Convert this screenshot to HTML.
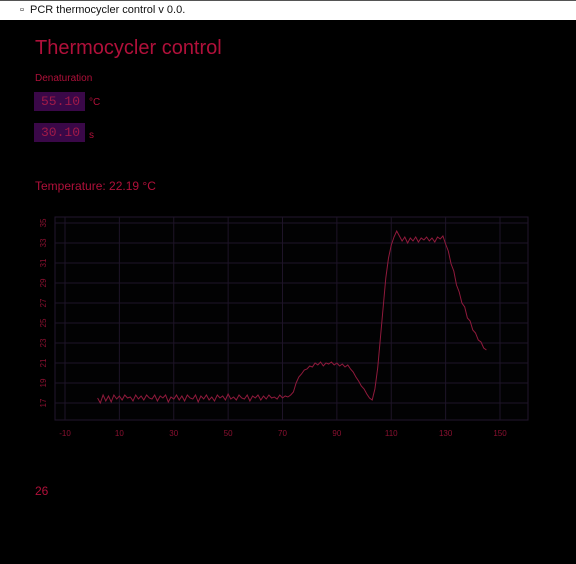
<!DOCTYPE html>
<html><head><meta charset="utf-8">
<style>
html,body{margin:0;padding:0;width:576px;height:564px;overflow:hidden;background:#000;font-family:"Liberation Sans",sans-serif;}
#titlebar{position:absolute;left:0;top:0;width:576px;height:20px;background:#fff;border-top:1px solid #555;box-sizing:border-box;}
#titlebar span{position:absolute;left:20px;top:3px;font-size:11px;color:#111;}
.t{position:absolute;color:#b0103a;}
.box{position:absolute;width:51px;height:19px;background:#3a0848;color:#a01a48;font-family:"Liberation Mono",monospace;font-size:13px;line-height:19px;box-sizing:border-box;padding-left:7px;}
</style></head><body>
<div id="titlebar"><span>▫&nbsp;&nbsp;PCR thermocycler control v 0.0.</span></div>
<div class="t" style="left:35px;top:37px;font-size:20px;">Thermocycler control</div>
<div class="t" style="left:35px;top:73px;font-size:10px;">Denaturation</div>
<div class="box" style="left:34px;top:92px;">55.10</div>
<div class="t" style="left:89px;top:97px;font-size:10px;">°C</div>
<div class="box" style="left:34px;top:123px;">30.10</div>
<div class="t" style="left:89px;top:130px;font-size:10px;">s</div>
<div class="t" style="left:35px;top:179px;font-size:12px;">Temperature: 22.19 °C</div>
<div class="t" style="left:35px;top:484px;font-size:12px;">26</div>
<svg id="chart" width="576" height="564" style="position:absolute;left:0;top:0;">
</svg>
<script>
const xTicks=[-10,10,30,50,70,90,110,130,150];
const yTicks=[17,19,21,23,25,27,29,31,33,35];
const tStart=2;
const temps=[
17.5,17.0,17.8,17.2,17.7,17.1,17.8,17.4,17.7,17.3,17.8,17.5,17.6,17.2,17.8,17.4,17.7,17.3,17.8,17.5,
17.4,17.8,17.2,17.7,17.5,17.8,17.1,17.6,17.4,17.8,17.3,17.7,17.2,17.8,17.5,17.4,17.8,17.1,17.7,17.4,
17.8,17.3,17.6,17.2,17.8,17.5,17.7,17.3,17.9,17.4,17.6,17.3,17.8,17.5,17.4,17.8,17.2,17.7,17.5,17.8,
17.3,17.7,17.4,17.8,17.5,17.6,17.4,17.8,17.5,17.7,17.6,17.8,
18.1,19.0,19.6,19.9,20.3,20.4,20.7,
20.6,21.0,20.8,21.1,20.7,21.0,20.9,21.1,20.8,21.0,20.7,20.9,20.6,20.8,
20.4,20.1,19.6,19.2,18.7,18.4,17.9,17.5,17.3,
18.4,20.5,23.5,26.5,29.5,31.5,32.8,33.6,34.2,
33.7,33.2,33.6,33.0,33.5,33.2,33.6,33.1,33.5,33.3,33.6,33.2,33.5,33.1,33.6,33.4,33.7,
32.9,32.2,30.9,30.2,28.8,28.1,27.0,26.6,25.5,25.2,24.3,24.0,23.3,23.1,22.5,22.3
];
const X=v=>65+(v+10)*(435/160);
const Y=v=>403-(v-17)*(180/18);
const svg=document.getElementById('chart');
const NS='http://www.w3.org/2000/svg';
function mk(tag,attrs){const e=document.createElementNS(NS,tag);for(const k in attrs)e.setAttribute(k,attrs[k]);svg.appendChild(e);return e;}
const bg=mk('rect',{x:55,y:217,width:473,height:203,fill:'#020203',stroke:'#22162e','stroke-width':1});


xTicks.forEach(v=>{
  const l=mk('line',{x1:X(v),x2:X(v),y1:217,y2:420,stroke:'#1e1428','stroke-width':1});
  
  
  const t=mk('text',{x:X(v),y:436,'text-anchor':'middle','font-size':8,fill:'#8a1030'});
  t.textContent=v;
  
  
});
yTicks.forEach(v=>{
  const l=mk('line',{x1:55,x2:528,y1:Y(v),y2:Y(v),stroke:'#1e1428','stroke-width':1});
  
  
  const t=mk('text',{x:0,y:0,'text-anchor':'middle','font-size':8,fill:'#8a1030',transform:`translate(46,${Y(v)}) rotate(-90)`});
  t.textContent=v;
  
  
});
let d='';
temps.forEach((v,i)=>{d+=(i?'L':'M')+X(tStart+i).toFixed(1)+','+Y(v).toFixed(1);});
const p=mk('path',{d:d,fill:'none',stroke:'#901a3c','stroke-width':1});


</script>
</body></html>
